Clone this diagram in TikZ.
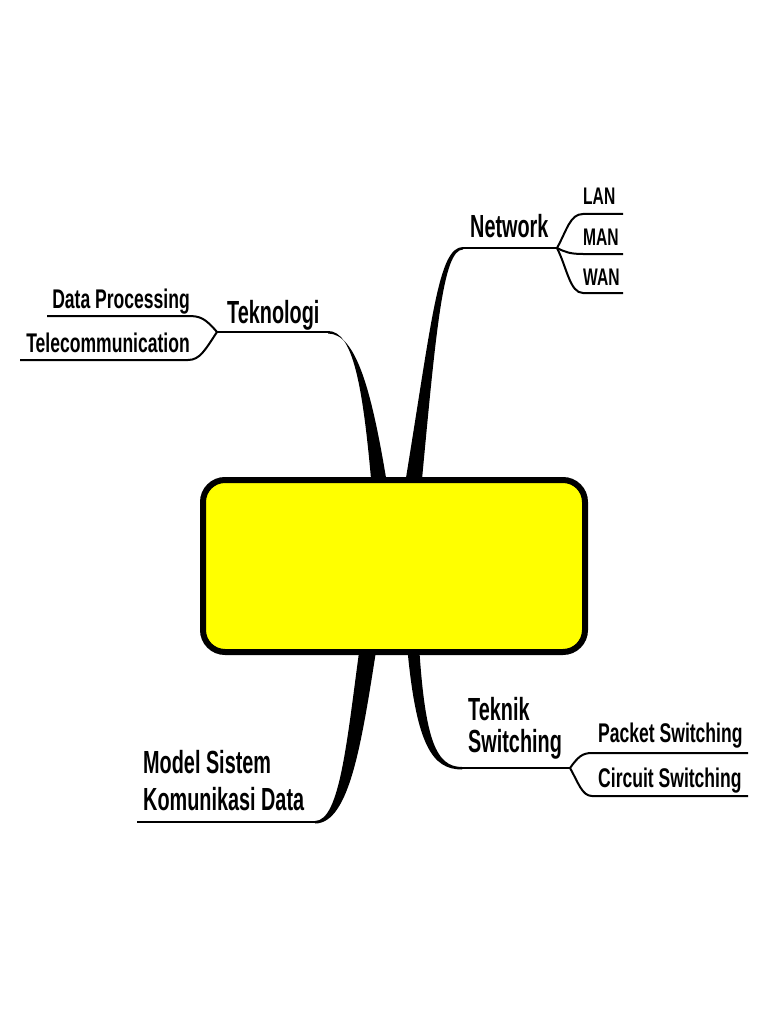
\documentclass[tikz,border=0pt]{standalone}
\usepackage{fontspec}
\newfontfamily\mainb[FakeStretch=0.62]{Liberation Sans}
\newfontfamily\subb[FakeStretch=0.65]{Liberation Sans}
\definecolor{coreyellow}{RGB}{255,255,0}
\begin{document}
\begin{tikzpicture}[x=1pt,y=-1pt,
  topic/.style={inner sep=0pt,font=\mainb\bfseries\fontsize{32}{34}\selectfont},
  net/.style={inner sep=0pt,font=\subb\bfseries\fontsize{24}{26}\selectfont},
  sub/.style={inner sep=0pt,font=\subb\bfseries\fontsize{27}{29}\selectfont},
  mainline/.style={line width=2.5pt},
  subline/.style={line width=2pt},
  core/.style={draw,line width=6pt,fill=coreyellow,rounded corners=22pt,
    minimum width=382pt,minimum height=172pt,inner sep=0pt}]
\useasboundingbox (0,0) rectangle (768,1024);
\fill[white] (0,0) rectangle (768,1024);

% named points
\coordinate (tkJ) at (217,332);
\coordinate (tkT) at (328,332);
\coordinate (nwT) at (463,248);
\coordinate (nwJ) at (557,248);
\coordinate (msL) at (137,822);
\coordinate (msT) at (315,822);
\coordinate (tsT) at (462,768);
\coordinate (tsJ) at (570,768);
\coordinate (dpE) at (47,316);
\coordinate (tcE) at (20,360);
\coordinate (lanE) at (623,214);
\coordinate (manE) at (623,254);
\coordinate (wanE) at (623,293);
\coordinate (psE) at (748,753);
\coordinate (csE) at (748,796);

% tapered main branches
\fill (328,331) .. controls (353,331) and (363,385) .. (372,490)
  -- (388,490) .. controls (372,390) and (356,333.5) .. (328,333.5) -- cycle;
\fill (463,247) .. controls (438,247) and (432,320) .. (404,490)
  -- (421,490) .. controls (436,330) and (443,249.5) .. (463,249.5) -- cycle;
\fill (315,821) .. controls (340,821) and (347,740) .. (360,645)
  -- (377,645) .. controls (362,740) and (350,823.5) .. (315,823.5) -- cycle;
\fill (407,645) .. controls (416,745) and (432,769.5) .. (462,769.5)
  -- (462,767) .. controls (436,767) and (425,740) .. (419,645) -- cycle;

% central box
\node[core] (core) at (394,566) {};

% underlines
\draw[mainline] (tkJ) -- (tkT);
\draw[mainline] (nwT) -- (nwJ);
\draw[mainline] (msL) -- (msT);
\draw[mainline] (tsT) -- (tsJ);

% sub branches
\draw[subline] (tkJ) .. controls (205,318) and (200,316) .. (188,316) -- (dpE);
\draw[subline] (tkJ) .. controls (205,350) and (200,360) .. (188,360) -- (tcE);
\draw[subline] (nwJ) .. controls (567,230) and (570,214) .. (583,214) -- (lanE);
\draw[subline] (nwJ) .. controls (565,252) and (570,254) .. (583,254) -- (manE);
\draw[subline] (nwJ) .. controls (567,268) and (570,293) .. (583,293) -- (wanE);
\draw[subline] (tsJ) .. controls (578,757) and (582,753) .. (592,753) -- (psE);
\draw[subline] (tsJ) .. controls (578,782) and (582,796) .. (592,796) -- (csE);

% labels
\node[topic,anchor=base west] (tek) at (227,323) {Teknologi};
\node[sub,anchor=base east] (dp) at (190,308) {Data Processing};
\node[sub,anchor=base east] (tc) at (190,352) {Telecommunication};
\node[topic,anchor=base west] (nw) at (470,237) {Network};
\node[net,anchor=base west] (lan) at (583,205) {LAN};
\node[net,anchor=base west] (man) at (583,245) {MAN};
\node[net,anchor=base west] (wan) at (583,285) {WAN};
\node[topic,anchor=base west] (ms1) at (143,773) {Model Sistem};
\node[topic,anchor=base west] (ms2) at (143,810) {Komunikasi Data};
\node[topic,anchor=base west] (ts1) at (468,720) {Teknik};
\node[topic,anchor=base west] (ts2) at (468,752) {Switching};
\node[sub,anchor=base west] (ps) at (598,742) {Packet Switching};
\node[sub,anchor=base west] (cs) at (598,787) {Circuit Switching};
\end{tikzpicture}
\end{document}
